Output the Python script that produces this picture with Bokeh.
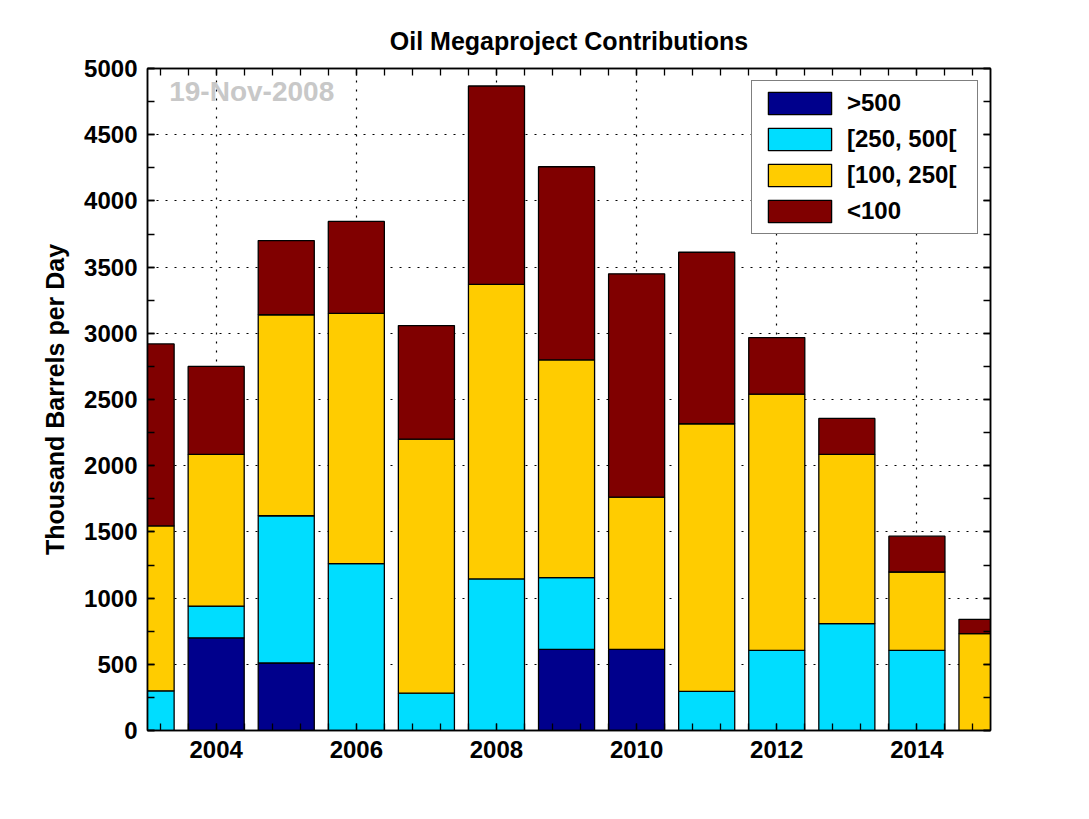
import numpy as np
from bokeh.plotting import figure
from bokeh.models import (Range1d, FixedTicker, SingleIntervalTicker, LinearAxis,
                          Legend, Label, CustomJSTickFormatter)
from bokeh.embed import file_html
from bokeh.resources import INLINE

# ---- data ----
years = [2003, 2004, 2005, 2006, 2007, 2008, 2009, 2010, 2011, 2012, 2013, 2014, 2015]
over_500 = [0, 700, 510, 0, 0, 0, 612, 612, 0, 0, 0, 0, 0]
r250_500 = [300, 240, 1112, 1260, 282, 1145, 543, 0, 295, 605, 807, 605, 0]
r100_250 = [1245, 1145, 1518, 1890, 1918, 2224, 1645, 1150, 2022, 1935, 1278, 592, 732]
under_100 = [1375, 665, 560, 695, 858, 1499, 1458, 1687, 1295, 428, 272, 271, 108]

series_keys = ["gt500", "r250", "r100", "lt100"]
series_labels = [">500", "[250, 500[", "[100, 250[", "<100"]
series_colors = ["#00008C", "#00DDFF", "#FFCC00", "#800000"]
x_tick_years = [2004, 2006, 2008, 2010, 2012, 2014]
title_text = "Oil Megaproject Contributions"
y_label = "Thousand Barrels per Day"
stamp_text = "19-Nov-2008"

data = dict(year=years, gt500=over_500, r250=r250_500, r100=r100_250, lt100=under_100)

FONT = "Liberation Sans"

p = figure(width=1078, height=808,
           x_range=Range1d(2003.02, 2015.05), y_range=Range1d(0, 5000),
           output_backend="svg", toolbar_location=None,
           min_border_left=147, min_border_right=88,
           min_border_top=68, min_border_bottom=78,
           background_fill_color="white", border_fill_color="white")

renderers = p.vbar_stack(series_keys, x="year", width=0.8, source=data,
                         color=series_colors, line_color="black", line_width=1.3)

# title
p.title.text = title_text
p.title.align = "center"
p.title.text_font = FONT
p.title.text_font_style = "bold"
p.title.text_font_size = "25px"
p.title.text_color = "black"
p.title.standoff = 27

# ticks
minor_x = [float(v) for v in np.round(np.arange(2003.2, 2015.0, 0.4), 2)]
xticker = FixedTicker(ticks=x_tick_years, minor_ticks=minor_x)
yticker = SingleIntervalTicker(interval=500, num_minor_ticks=2)

bottom_axis = p.below[0]
left_axis = p.left[0]
bottom_axis.ticker = xticker
left_axis.ticker = yticker
left_axis.axis_label = y_label

blank = CustomJSTickFormatter(code="return '';")
top_axis = LinearAxis(ticker=xticker, formatter=blank)
right_axis = LinearAxis(ticker=yticker, formatter=blank)
p.add_layout(top_axis, "above")
p.add_layout(right_axis, "right")

for ax in [bottom_axis, left_axis, top_axis, right_axis]:
    ax.axis_line_color = "black"
    ax.axis_line_width = 1.5
    ax.major_tick_in = 7
    ax.major_tick_out = 0
    ax.minor_tick_in = 7
    ax.minor_tick_out = 0
    ax.major_tick_line_color = "black"
    ax.minor_tick_line_color = "black"
    ax.major_tick_line_width = 1.3
    ax.minor_tick_line_width = 1.3
    ax.major_label_text_font = FONT
    ax.major_label_text_font_style = "bold"
    ax.major_label_text_font_size = "24px"
    ax.major_label_text_color = "black"
    ax.major_label_standoff = 10

for ax in [top_axis, right_axis]:
    ax.major_label_standoff = 0

left_axis.axis_label_text_font = FONT
left_axis.axis_label_text_font_style = "bold"
left_axis.axis_label_text_font_size = "25px"
left_axis.axis_label_text_color = "black"
left_axis.axis_label_standoff = 12

p.outline_line_color = "black"
p.outline_line_width = 1.5

# grid
p.xgrid.ticker = xticker
p.ygrid.ticker = yticker
for g in [p.xgrid[0], p.ygrid[0]]:
    g.grid_line_color = "black"
    g.grid_line_dash = "2 7"
    g.grid_line_width = 1.2

# stamp
stamp = Label(x=2003.33, y=4830, text=stamp_text, text_font=FONT,
              text_font_style="bold", text_font_size="28px",
              text_color="#C8C8C8", text_baseline="middle")
p.add_layout(stamp)

# legend
legend = Legend(items=[(lab, [r]) for lab, r in zip(series_labels, renderers)],
                location="top_right")
legend.glyph_width = 79
legend.glyph_height = 28
legend.spacing = 8
legend.padding = 8
legend.margin = 12
legend.label_standoff = 8
legend.label_text_font = FONT
legend.label_text_font_style = "bold"
legend.label_text_font_size = "24px"
legend.label_text_color = "black"
legend.label_width = 122
legend.border_line_color = "black"
legend.border_line_width = 1.5
legend.background_fill_alpha = 1
p.add_layout(legend)

open("out.html", "w").write(file_html(p, INLINE))
